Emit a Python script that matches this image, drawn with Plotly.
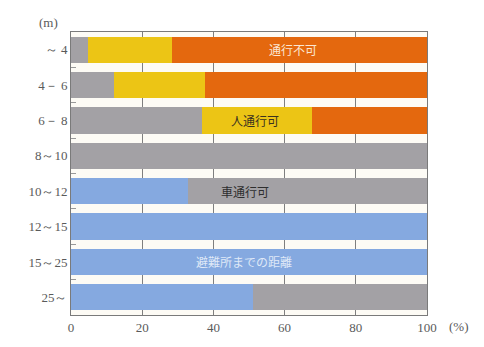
import plotly.graph_objects as go

# Road width classes (m) and share of each passability state (%)
widths = ["～ 4", "4－ 6", "6－ 8", "8～10", "10～12", "12～15", "15～25", "25～"]
blue_share = [0, 0, 0, 0, 33, 100, 100, 51]
gray_share = [4.7, 12, 36.7, 100, 67, 0, 0, 49]
yellow_share = [23.7, 25.7, 30.9, 0, 0, 0, 0, 0]
orange_share = [71.6, 62.3, 32.4, 0, 0, 0, 0, 0]

x_ticks = [0, 20, 40, 60, 80, 100]

series = [
    (blue_share, "#85a9e0"),
    (gray_share, "#a3a1a5"),
    (yellow_share, "#ecc515"),
    (orange_share, "#e4680e"),
]

fig = go.Figure()
for vals, color in series:
    fig.add_trace(go.Bar(
        y=widths, x=vals, orientation="h", width=0.74,
        marker=dict(color=color, line=dict(width=0)),
        hoverinfo="skip", showlegend=False,
    ))

jp = "Noto Sans CJK JP"
labels = [
    ("通行不可", 62.4, widths[0], "#fbe6d2"),
    ("人通行可", 51.7, widths[2], "#3a3220"),
    ("車通行可", 49.0, widths[4], "#2e2e2e"),
    ("避難所までの距離", 48.5, widths[6], "#dfe8f7"),
]
for text, xv, yv, col in labels:
    fig.add_annotation(x=xv, y=yv, text=text, showarrow=False,
                       font=dict(family=jp, size=12, color=col))

tick_font = dict(family="Liberation Serif", size=13, color="#5a5a5a")
fig.add_annotation(xref="paper", yref="paper", x=-0.03, y=1.0, yanchor="bottom",
                   xanchor="right", text="(m)", showarrow=False, font=tick_font)
fig.add_annotation(xref="paper", yref="paper", x=1.055, y=0, yanchor="top",
                   xanchor="left", yshift=-2, text="(%)", showarrow=False,
                   font=tick_font)

fig.update_layout(
    barmode="stack",
    width=484, height=347,
    margin=dict(l=71, r=57, t=32, b=25),
    paper_bgcolor="#ffffff",
    plot_bgcolor="#fdfbf5",
)
fig.update_xaxes(
    range=[0, 100], tickvals=x_ticks, ticktext=[str(v) for v in x_ticks],
    showgrid=True, gridcolor="#7f7f7f", gridwidth=1,
    showline=True, linecolor="#7a7a7a", linewidth=1, mirror=True,
    ticks="", zeroline=False, tickfont=tick_font,
)
fig.update_yaxes(
    autorange="reversed", type="category",
    showgrid=False, showline=True, linecolor="#7a7a7a", linewidth=1, mirror=True,
    ticks="inside", tickson="boundaries", ticklen=5, tickcolor="#999",
    tickfont=tick_font,
)

fig.write_html("out.html")
